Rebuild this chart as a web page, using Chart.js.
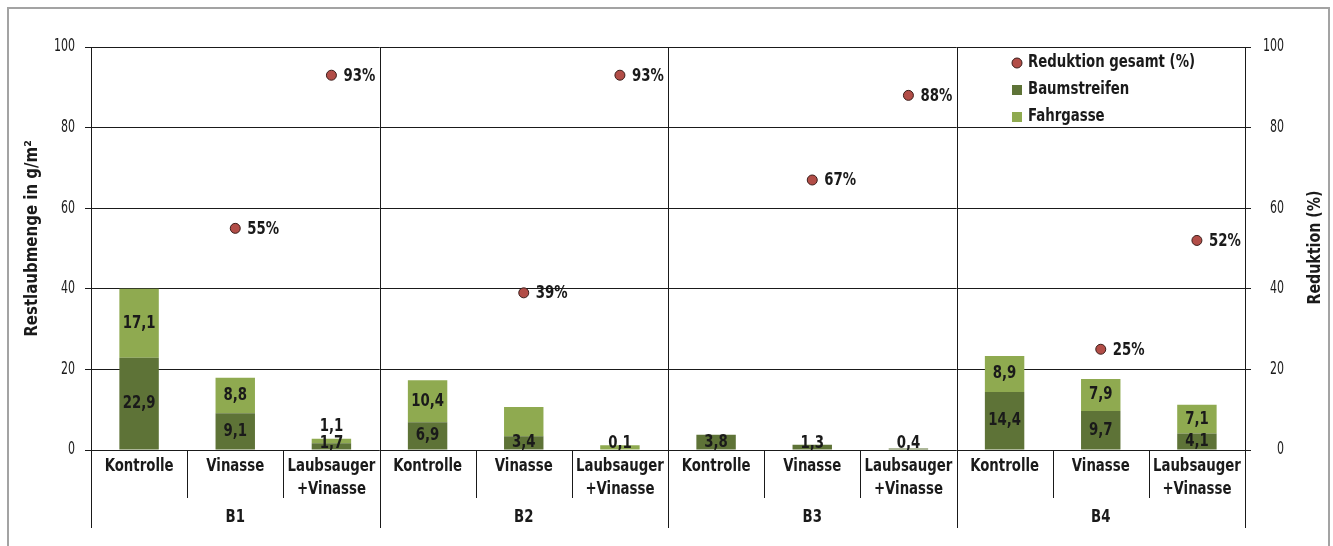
<!DOCTYPE html>
<html><head><meta charset="utf-8">
<script src="https://cdn.jsdelivr.net/npm/chart.js@4"></script>
<style>html,body{margin:0;padding:0;background:#fff;overflow:hidden}canvas{display:block}</style>
</head><body>
<canvas id="c" width="1333" height="546"></canvas>
<script>
const groups = ['B1', 'B2', 'B3', 'B4'];
const treatments = [['Kontrolle'], ['Vinasse'], ['Laubsauger', '+Vinasse']];
const categories = groups.flatMap(() => treatments);
const baumstreifen = [22.9, 9.1, 1.7, 6.9, 3.4, 0.1, 3.8, 1.3, 0.4, 14.4, 9.7, 4.1];
const fahrgasse = [17.1, 8.8, 1.1, 10.4, 7.3, 1.1, 0, 0, 0, 8.9, 7.9, 7.1];
const fahrgasseLabelShown = [true, true, true, true, false, false, false, false, false, true, true, true];
const reduktion = [null, 55, 93, null, 39, 93, null, 67, 88, null, 25, 52];
const yTicks = [0, 20, 40, 60, 80, 100];
const seriesNames = ['Reduktion gesamt (%)', 'Baumstreifen', 'Fahrgasse'];
const yTitle = 'Restlaubmenge in g/m²';
const y2Title = 'Reduktion (%)';

const FONT = "'DejaVu Sans Condensed','Liberation Sans',sans-serif";
const DARK = '#5e7337', LIGHT = '#8faa50', PT = '#b24d47', INK = '#1a1a1a';
const fmt = v => String(v).replace('.', ',');

function txt(c, s, x, y, o = {}) {
  const size = o.size || 17, bold = o.bold !== false, align = o.align || 'center', sx = o.sx || 0.87;
  c.save();
  c.font = (bold ? 'bold ' : '') + size + 'px ' + FONT;
  c.fillStyle = INK; c.textAlign = align; c.textBaseline = 'middle';
  c.translate(x, y);
  if (o.rot) c.rotate(o.rot);
  c.scale(sx, 1);
  c.fillText(s, 0, 0);
  c.restore();
}

const deco = {
  id: 'deco',
  beforeDraw(chart) {
    const c = chart.ctx;
    c.save();
    c.strokeStyle = '#a3a3a3'; c.lineWidth = 2;
    c.strokeRect(8, 8, 1321, 600);
    c.restore();
  },
  afterDatasetsDraw(chart) {
    const c = chart.ctx;
    const m0 = chart.getDatasetMeta(1), m1 = chart.getDatasetMeta(2);
    const area = chart.chartArea;
    for (let i = 0; i < categories.length; i++) {
      const b = m0.data[i];
      const yd = Math.min((b.y + b.base) / 2, area.bottom - 6);
      txt(c, fmt(baumstreifen[i]), b.x, yd);
      if (fahrgasseLabelShown[i]) {
        const f = m1.data[i];
        let yf = (f.y + f.base) / 2;
        if (yd - yf < 17) yf = yd - 17;
        txt(c, fmt(fahrgasse[i]), f.x, yf);
      }
    }
    const mp = chart.getDatasetMeta(0);
    for (let i = 0; i < reduktion.length; i++) {
      if (reduktion[i] == null) continue;
      const p = mp.data[i];
      txt(c, reduktion[i] + '%', p.x + 12, p.y + 1, { align: 'left' });
    }
  },
  afterDraw(chart) {
    const c = chart.ctx, a = chart.chartArea, xs = chart.scales.x, ys = chart.scales.y, ys2 = chart.scales.y2;
    c.save();
    c.strokeStyle = INK; c.lineWidth = 1;
    const line = (x, y1, y2) => { c.beginPath(); c.moveTo(Math.round(x) + 0.5, y1); c.lineTo(Math.round(x) + 0.5, y2); c.stroke(); };
    line(a.left, a.top, 528);
    line(a.right, a.top, 528);
    for (let i = 0; i < categories.length - 1; i++) {
      const x = (xs.getPixelForValue(i) + xs.getPixelForValue(i + 1)) / 2;
      if ((i + 1) % treatments.length === 0) line(x, a.top, 528);
      else line(x, a.bottom, 498);
    }
    c.restore();
    // y tick labels
    yTicks.forEach(v => {
      txt(c, String(v), 75, ys.getPixelForValue(v), { bold: false, align: 'right', sx: 0.72 });
      txt(c, String(v), 1284, ys2.getPixelForValue(v), { bold: false, align: 'right', sx: 0.72 });
    });
    // category labels
    categories.forEach((lab, i) => {
      const x = xs.getPixelForValue(i);
      lab.forEach((l, k) => txt(c, l, x, 467 + k * 23));
    });
    groups.forEach((g, gi) => {
      txt(c, g, xs.getPixelForValue(gi * treatments.length + 1), 518);
    });
    // axis titles
    const mid = (a.top + a.bottom) / 2;
    txt(c, yTitle, 33, mid - 10, { rot: -Math.PI / 2, sx: 0.98 });
    txt(c, y2Title, 1316, mid - 1, { rot: -Math.PI / 2, sx: 0.93 });
    // legend
    c.save();
    c.beginPath(); c.arc(1017, 63, 5, 0, Math.PI * 2); c.fillStyle = PT; c.fill(); c.strokeStyle = '#3a1d1a'; c.lineWidth = 1; c.stroke();
    c.fillStyle = DARK; c.fillRect(1012, 85, 10, 10);
    c.fillStyle = LIGHT; c.fillRect(1012, 112, 10, 10);
    c.restore();
    txt(c, seriesNames[0], 1028, 63, { align: 'left' });
    txt(c, seriesNames[1], 1028, 90, { align: 'left' });
    txt(c, seriesNames[2], 1028, 117, { align: 'left' });
  }
};

new Chart(document.getElementById('c'), {
  data: {
    labels: categories,
    datasets: [
      { type: 'line', label: seriesNames[0], data: reduktion, yAxisID: 'y2', showLine: false,
        pointRadius: 5, pointHoverRadius: 5, pointBackgroundColor: PT, pointBorderColor: '#3a1d1a', pointBorderWidth: 1 },
      { type: 'bar', label: seriesNames[1], data: baumstreifen, backgroundColor: DARK, yAxisID: 'y',
        categoryPercentage: 1, barPercentage: 0.41, stack: 's' },
      { type: 'bar', label: seriesNames[2], data: fahrgasse, backgroundColor: LIGHT, yAxisID: 'y',
        categoryPercentage: 1, barPercentage: 0.41, stack: 's' }
    ]
  },
  options: {
    responsive: false, animation: false, devicePixelRatio: 1,
    layout: { padding: { top: 47, left: 0, right: 0, bottom: 0 } },
    plugins: { legend: { display: false }, tooltip: { enabled: false } },
    scales: {
      x: {
        stacked: true, offset: true,
        grid: { display: false }, border: { display: false },
        ticks: { display: false },
        afterFit: s => { s.height = 96; }
      },
      y: {
        stacked: true, min: 0, max: 100, position: 'left',
        afterBuildTicks: s => { s.ticks = yTicks.map(v => ({ value: v })); },
        grid: { color: INK, lineWidth: 1, tickLength: 6 }, border: { display: false },
        ticks: { display: false },
        afterFit: s => { s.width = 91; }
      },
      y2: {
        min: 0, max: 100, position: 'right',
        afterBuildTicks: s => { s.ticks = yTicks.map(v => ({ value: v })); },
        grid: { drawOnChartArea: false, color: INK, tickLength: 6 }, border: { display: false },
        ticks: { display: false },
        afterFit: s => { s.width = 88; }
      }
    }
  },
  plugins: [deco]
});
</script>
</body></html>
